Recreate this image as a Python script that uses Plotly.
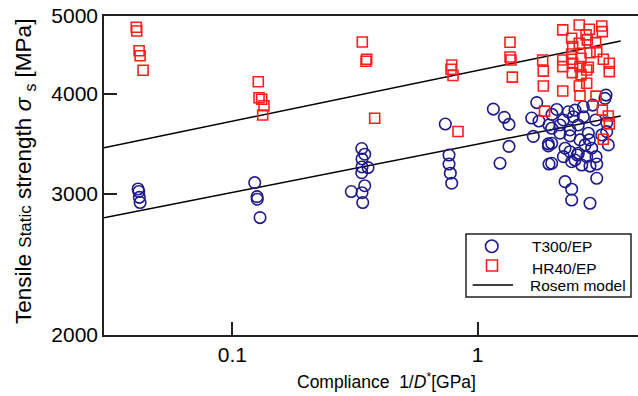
import plotly.graph_objects as go
import math

# ---------------- data ----------------
t300_x = [0.0413, 0.0416, 0.0418, 0.0421,
          0.1234, 0.1261, 0.1264, 0.1297,
          0.3368, 0.3464, 0.3377, 0.3377, 0.3573, 0.3368, 0.3464, 0.3054, 0.3377, 0.3400,
          0.7378, 0.7639, 0.7639, 0.7734, 0.7836,
          1.158, 1.284, 1.341, 1.341, 1.233, 1.740, 1.660, 1.777, 1.685, 1.940, 1.940, 1.952, 1.952, 2.100,
          3.333, 3.302, 2.341, 2.492, 2.694, 2.942, 2.008, 2.234, 2.452, 2.694, 3.026, 3.355, 2.165, 2.570,
          2.002, 2.377, 2.823, 3.202, 2.165, 2.377, 2.611, 2.850, 2.002, 2.737, 3.406, 2.270, 2.914, 2.377,
          2.570, 2.234, 2.781, 3.035, 2.002, 2.415, 2.654, 3.055, 2.868, 2.270, 3.055, 2.415, 2.415, 2.868,
          2.546, 2.492, 3.355]
t300_y = [3042, 3020, 2970, 2926,
          3098, 2976, 2954, 2802,
          3417, 3362, 3316, 3241, 3235, 3188, 3071, 3020, 3010, 2926,
          3666, 3354, 3268, 3183, 3093,
          3827, 3737, 3662, 3438, 3275, 3899, 3730, 3698, 3538, 3463, 3443, 3268, 3656, 3823,
          3984, 3946, 3797, 3816, 3852, 3871, 3769, 3709, 3744, 3744, 3709, 3680, 3656, 3656,
          3622, 3604, 3571, 3553, 3571, 3543, 3503, 3503, 3469, 3453, 3453, 3420, 3420, 3386,
          3371, 3338, 3338, 3338, 3275, 3290, 3259, 3268, 3249, 3107, 3137, 3040, 2947, 2920,
          3354, 3306, 3587]

hr40_x = [0.0406, 0.0408, 0.0417, 0.0421, 0.0433,
          0.1276, 0.1285, 0.1318, 0.1346, 0.1330,
          0.3386, 0.3529, 0.3506, 0.3804,
          0.7836, 0.7785, 0.7932, 0.8311,
          1.354, 1.354, 1.367, 1.384, 1.840, 1.851, 1.851, 1.872,
          2.221, 2.594, 2.850, 3.202, 3.220, 2.415, 2.763, 2.797, 2.594, 2.438, 3.026, 2.868,
          2.415, 3.055, 2.636, 2.221, 3.250, 2.438, 2.221, 2.823, 3.438, 3.438, 2.429, 2.636,
          2.594, 2.781, 2.221, 2.611, 3.035, 3.220, 3.406, 3.438, 3.250, 2.611, 2.781, 2.415]
hr40_y = [4841, 4789, 4525, 4461, 4278,
          4140, 3954, 3936, 3864, 3762,
          4641, 4415, 4390, 3727,
          4343, 4290, 4214, 3588,
          4637, 4444, 4407, 4195, 4407, 4268, 4089, 3805,
          4804, 4873, 4813, 4859, 4780, 4691, 4736, 4668, 4624, 4579, 4632, 4500,
          4483, 4513, 4428, 4407, 4415, 4365, 4323, 4315, 4365, 4262, 4250, 4222,
          4089, 4121, 4031, 3976, 3972, 3816, 3751, 3667, 3510, 4323, 4282, 4415]

# Rosem model lines (end points)
model_x = [0.030, 3.825]
model_hr40_y = [3425, 4654]
model_t300_y = [2801, 3752]

x_tickvals = [0.1, 1]
x_ticktext = ["0.1", "1"]
y_tickvals = [2000, 3000, 4000, 5000]
y_ticktext = ["2000", "3000", "4000", "5000"]

legend_labels = ["T300/EP", "HR40/EP", "Rosem model"]

# ---------------- styles ----------------
NAVY = "rgb(30,26,140)"
RED = "rgb(255,30,30)"
FONT = "Liberation Sans, Arial, sans-serif"
W, H = 638, 396
ML, MR, MT, MB = 104, 0, 16, 61
PW, PH = W - ML - MR, H - MT - MB


def px(xp):
    return (xp - ML) / PW


def py(yp):
    return (H - MB - yp) / PH


fig = go.Figure()
fig.add_trace(go.Scatter(x=model_x, y=model_hr40_y, mode="lines",
                         line=dict(color="black", width=1.5), showlegend=False))
fig.add_trace(go.Scatter(x=model_x, y=model_t300_y, mode="lines",
                         line=dict(color="black", width=1.5), showlegend=False))
fig.add_trace(go.Scatter(x=t300_x, y=t300_y, mode="markers", name=legend_labels[0],
                         marker=dict(symbol="circle-open", size=11.5, color=NAVY,
                                     line=dict(width=1.6, color=NAVY)),
                         showlegend=False))
fig.add_trace(go.Scatter(x=hr40_x, y=hr40_y, mode="markers", name=legend_labels[1],
                         marker=dict(symbol="square-open", size=10, color=RED,
                                     line=dict(width=1.6, color=RED)),
                         showlegend=False))

axis_common = dict(showgrid=False, zeroline=False, showline=True, linecolor="#222",
                   linewidth=1.5, ticks="inside", ticklen=13, tickwidth=1.5, tickcolor="#222",
                   tickfont=dict(family=FONT, size=21, color="black"), automargin=False)

fig.update_xaxes(type="log", range=[math.log10(0.030), 0.6532],
                 tickvals=x_tickvals, ticktext=x_ticktext, mirror=True, **axis_common)
fig.update_yaxes(type="log", range=[math.log10(2000), math.log10(5000)],
                 tickvals=y_tickvals, ticktext=y_ticktext, mirror=False, **axis_common)

shapes = [
    dict(type="rect", xref="paper", yref="paper", x0=px(466), x1=px(631), y0=py(297), y1=py(234),
         line=dict(color="#222", width=1.5), fillcolor="white", layer="above"),
    dict(type="circle", xref="paper", yref="paper", x0=px(485.5), x1=px(498), y0=py(252.5), y1=py(240),
         line=dict(color=NAVY, width=1.6), layer="above"),
    dict(type="rect", xref="paper", yref="paper", x0=px(486.5), x1=px(497.5), y0=py(271), y1=py(260),
         line=dict(color=RED, width=1.6), layer="above"),
    dict(type="line", xref="paper", yref="paper", x0=px(472.7), x1=px(513), y0=py(285), y1=py(285),
         line=dict(color="black", width=1.5), layer="above"),
]

leg_font = dict(family=FONT, size=15.5, color="black")
annotations = [
    dict(xref="paper", yref="paper", x=px(530), y=py(246.5), text=legend_labels[0], showarrow=False,
         xanchor="left", yanchor="middle", font=leg_font),
    dict(xref="paper", yref="paper", x=px(530), y=py(268), text=legend_labels[1], showarrow=False,
         xanchor="left", yanchor="middle", font=leg_font),
    dict(xref="paper", yref="paper", x=px(527.7), y=py(285.5), text=legend_labels[2], showarrow=False,
         xanchor="left", yanchor="middle", font=leg_font),
    # axis titles
    dict(xref="paper", yref="paper", x=px(386), y=py(381),
         text="Compliance\u00a0\u00a01/<i>D</i><sup>*</sup>[GPa]", showarrow=False,
         xanchor="center", yanchor="middle", font=dict(family=FONT, size=17.5, color="black")),
    dict(xref="paper", yref="paper", x=px(25), y=py(172), textangle=-90,
         text="Tensile <span style='font-size:17px'>Static</span> strength <i>σ</i> <sub>s</sub> [MPa]",
         showarrow=False, xanchor="center", yanchor="middle",
         font=dict(family=FONT, size=22.5, color="black")),
]

fig.update_layout(width=W, height=H, margin=dict(l=ML, r=MR, t=MT, b=MB),
                  paper_bgcolor="white", plot_bgcolor="white",
                  shapes=shapes, annotations=annotations, showlegend=False,
                  font=dict(family=FONT, color="black"))

fig.write_html("out.html", config={"displayModeBar": False},
               post_script="document.body.style.margin='0';document.body.style.overflow='hidden';")
